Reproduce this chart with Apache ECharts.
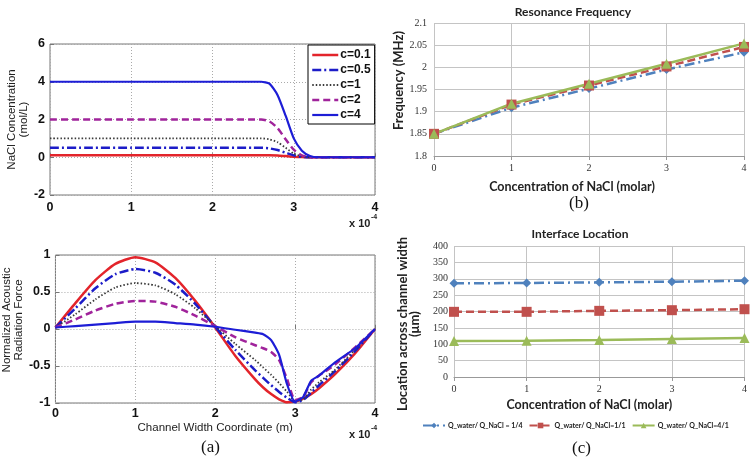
<!DOCTYPE html>
<html><head><meta charset="utf-8">
<script src="https://cdn.jsdelivr.net/npm/echarts/dist/echarts.min.js"></script>
<style>html,body{margin:0;padding:0;background:#fff}#c{width:750px;height:457px}</style>
</head><body><div id="c"></div>
<script>
// ---- (a) top: NaCl concentration profile (x in units of 1e-4 m)
const concX   = [0, 0.5, 1, 1.5, 2, 2.5, 2.6, 2.7, 2.8, 2.9, 3.0, 3.1, 3.2, 3.3, 3.5, 4];
const conc01  = [0.1,0.1,0.1,0.1,0.1,0.1,0.1,0.1,0.09,0.06,0.03,0.01,0,0,0,0];
const conc05  = [0.5,0.5,0.5,0.5,0.5,0.5,0.5,0.47,0.38,0.24,0.1,0.02,0,0,0,0];
const conc1   = [1,1,1,1,1,1,1,0.95,0.8,0.5,0.2,0.05,0,0,0,0];
const conc2   = [2,2,2,2,2,2,2,1.9,1.55,0.95,0.4,0.1,0.01,0,0,0];
const conc4   = [4,4,4,4,4,4,4,3.9,3.3,2.2,1.0,0.35,0.07,0,0,0];
const concNames = ['c=0.1','c=0.5','c=1','c=2','c=4'];
// ---- (a) bottom: normalized acoustic radiation force
const forceX  = [0,0.25,0.5,0.75,1,1.25,1.5,1.75,2,2.25,2.5,2.6,2.7,2.8,2.9,3.0,3.1,3.2,3.3,3.5,3.75,4];
const force01 = [0.02,0.35,0.66,0.88,0.97,0.9,0.69,0.38,0.02,-0.36,-0.68,-0.79,-0.88,-0.95,-0.99,-0.98,-0.94,-0.88,-0.8,-0.61,-0.33,0];
const force05 = [0.02,0.28,0.55,0.74,0.81,0.76,0.6,0.34,0.03,-0.28,-0.56,-0.66,-0.76,-0.85,-0.93,-0.99,-0.96,-0.86,-0.76,-0.57,-0.3,0];
const force1  = [0.02,0.2,0.4,0.56,0.62,0.59,0.47,0.28,0.04,-0.2,-0.42,-0.52,-0.62,-0.73,-0.85,-0.97,-0.95,-0.82,-0.72,-0.55,-0.28,0];
const force2  = [0.02,0.13,0.25,0.34,0.38,0.37,0.3,0.18,0.04,-0.11,-0.22,-0.26,-0.31,-0.42,-0.68,-0.96,-0.92,-0.72,-0.63,-0.48,-0.25,0];
const force4  = [0.02,0.04,0.06,0.08,0.1,0.1,0.08,0.06,0.03,-0.01,-0.05,-0.07,-0.15,-0.35,-0.75,-0.98,-0.92,-0.7,-0.63,-0.45,-0.26,0];
// ---- (b) resonance frequency
const molar = [0, 1, 2, 3, 4];
const freqA = [1.85, 1.909, 1.952, 1.995, 2.034];
const freqB = [1.85, 1.916, 1.959, 2.002, 2.046];
const freqC = [1.85, 1.918, 1.963, 2.008, 2.054];
// ---- (c) interface location
const locA = [286, 287, 289, 291, 294];
const locB = [199, 199, 202, 204, 207];
const locC = [110, 111, 113, 116, 119];
const ratioNames = ['Q_water/ Q_NaCl = 1/4', 'Q_water/ Q_NaCl=1/1', 'Q_water/ Q_NaCl=4/1'];

const zip = (xs, ys) => xs.map((x, i) => [x, ys[i]]);

const matColors = ['#e3242b', '#1c1cc8', '#3a3a3a', '#a0239b', '#1d1dd6'];
const matStyles = [
  {type:'solid', width:2.5},
  {type:[9,3,2,3], width:2.5},
  {type:[1.5,2], width:1.8},
  {type:[7,4], width:2.5},
  {type:'solid', width:2.2}
];
const concData = [conc01, conc05, conc1, conc2, conc4];
const forceData = [force01, force05, force1, force2, force4];

const series = [];
concData.forEach((d, i) => series.push({
  type:'line', name: concNames[i], xAxisIndex:0, yAxisIndex:0,
  data: zip(concX, d), symbol:'none', showSymbol:false, smooth:0.2,
  color: matColors[i], lineStyle: Object.assign({color: matColors[i]}, matStyles[i])
}));
forceData.forEach((d, i) => series.push({
  type:'line', name: concNames[i], xAxisIndex:1, yAxisIndex:1,
  data: zip(forceX, d), symbol:'none', showSymbol:false, smooth:0.2,
  color: matColors[i], lineStyle: Object.assign({color: matColors[i]}, matStyles[i])
}));

const xlColors = ['#4f81bd', '#c0504d', '#9bbb59'];
const xlSymbols = ['diamond', 'rect', 'triangle'];
const xlSizes = [9, 10, 10];
const xlLine = [[10,4,2,4], [8,4], 'solid'];
[freqA, freqB, freqC].forEach((d, i) => series.push({
  type:'line', name: ratioNames[i], xAxisIndex:2, yAxisIndex:2,
  data: zip(molar, d), symbol: xlSymbols[i], symbolSize: xlSizes[i],
  color: xlColors[i], itemStyle:{color: xlColors[i]},
  lineStyle:{color: xlColors[i], width:2.5, type: xlLine[i]}
}));
[locA, locB, locC].forEach((d, i) => series.push({
  type:'line', name: ratioNames[i], xAxisIndex:3, yAxisIndex:3,
  data: zip(molar, d), symbol: xlSymbols[i], symbolSize: xlSizes[i],
  color: xlColors[i], itemStyle:{color: xlColors[i]},
  lineStyle:{color: xlColors[i], width:2.5, type: xlLine[i]}
}));

const matLabel = {color:'#111', fontFamily:'Liberation Sans', fontWeight:'bold', fontSize:12.5};
const matSplit = {show:true, lineStyle:{color:'#aaa', type:[1,2], width:1}};
const xlLabel = {color:'#333', fontFamily:'Liberation Serif', fontSize:10};
const xlSplit = {show:true, lineStyle:{color:'#c4c4c4', width:1}};
const xlName = {color:'#222', fontFamily:'Lato', fontWeight:'bold', fontSize:12.5};

const option = {
  animation:false,
  backgroundColor:'#fff',
  grid:[
    {left:50, top:44, width:325, height:151, show:true, borderColor:'#777', borderWidth:1, backgroundColor:'transparent'},
    {left:50, top:255, width:325, height:148, show:true, borderColor:'#777', borderWidth:1, backgroundColor:'transparent'},
    {left:434, top:23, width:310, height:133},
    {left:454, top:246, width:292, height:131}
  ],
  xAxis:[
    {type:'value', gridIndex:0, min:0, max:4, interval:1, axisLine:{show:false},
     axisTick:{inside:true, length:4, lineStyle:{color:'#777'}}, axisLabel:Object.assign({margin:6}, matLabel), splitLine:matSplit},
    {type:'value', gridIndex:1, min:0, max:4, interval:1, axisLine:{show:false},
     axisTick:{inside:true, length:4, lineStyle:{color:'#777'}}, axisLabel:Object.assign({margin:4}, matLabel), splitLine:matSplit,
     name:'Channel Width Coordinate (m)', nameLocation:'middle', nameGap:19,
     nameTextStyle:{color:'#222', fontFamily:'Liberation Sans', fontSize:11.5}},
    {type:'value', gridIndex:2, min:0, max:4, interval:1, axisLine:{show:true, lineStyle:{color:'#999'}},
     axisTick:{show:true, length:4, lineStyle:{color:'#999'}}, axisLabel:Object.assign({margin:7}, xlLabel), splitLine:xlSplit,
     name:'Concentration of NaCl (molar)', nameLocation:'middle', nameGap:24,
     nameTextStyle:Object.assign({padding:[0,34,0,0]}, xlName)},
    {type:'value', gridIndex:3, min:0, max:4, interval:1, axisLine:{show:true, lineStyle:{color:'#999'}},
     axisTick:{show:true, length:4, lineStyle:{color:'#999'}}, axisLabel:Object.assign({margin:7}, xlLabel), splitLine:xlSplit,
     name:'Concentration of NaCl (molar)', nameLocation:'middle', nameGap:21,
     nameTextStyle:Object.assign({padding:[0,20,0,0]}, xlName)}
  ],
  yAxis:[
    {type:'value', gridIndex:0, min:-2, max:6, interval:2, axisLine:{show:false},
     axisTick:{inside:true, length:4, lineStyle:{color:'#777'}}, axisLabel:Object.assign({margin:5}, matLabel), splitLine:matSplit,
     name:'NaCl Concentration\n(mol/L)', nameLocation:'middle', nameGap:16,
     nameTextStyle:{color:'#222', fontFamily:'Liberation Sans', fontSize:11.5, lineHeight:12}},
    {type:'value', gridIndex:1, min:-1, max:1, interval:0.5, axisLine:{show:false},
     axisTick:{inside:true, length:4, lineStyle:{color:'#777'}}, axisLabel:Object.assign({margin:5}, matLabel), splitLine:matSplit,
     name:'Normalized Acoustic\nRadiation Force', nameLocation:'middle', nameGap:24,
     nameTextStyle:{color:'#222', fontFamily:'Liberation Sans', fontSize:11.5, lineHeight:12, padding:[0,0,0,18]}},
    {type:'value', gridIndex:2, min:1.8, max:2.1, interval:0.05, axisLine:{show:false}, axisTick:{show:false},
     axisLabel:Object.assign({margin:7}, xlLabel), splitLine:xlSplit,
     name:'Frequency (MHz)', nameLocation:'middle', nameGap:28,
     nameTextStyle:Object.assign({padding:[0,0,0,18]}, xlName, {fontSize:13})},
    {type:'value', gridIndex:3, min:0, max:400, interval:50, axisLine:{show:false}, axisTick:{show:false},
     axisLabel:Object.assign({margin:6}, xlLabel), splitLine:xlSplit,
     name:'Location across channel width\n(μm)', nameLocation:'middle', nameGap:33,
     nameTextStyle:Object.assign({padding:[0,25,0,0], lineHeight:12}, xlName, {fontSize:13})}
  ],
  title:[
    {text:'Resonance Frequency', left:568, top:1, textAlign:'center',
     textStyle:{color:'#222', fontFamily:'Lato', fontWeight:'bold', fontSize:12}},
    {text:'Interface Location', left:575, top:223, textAlign:'center',
     textStyle:{color:'#222', fontFamily:'Lato', fontWeight:'bold', fontSize:12}}
  ],
  legend:[
    {data:concNames, left:308, top:45, orient:'vertical', itemGap:3, itemWidth:26, itemHeight:12,
     backgroundColor:'#fff', borderColor:'#000', borderWidth:1, padding:[4,4,3,3],
     itemStyle:{opacity:0}, lineStyle:{type:'inherit', width:'inherit'},
     textStyle:{color:'#111', fontFamily:'Liberation Sans', fontWeight:'bold', fontSize:12, padding:[0,0,0,-3]}},
    {data:ratioNames, left:422, top:422, orient:'horizontal', itemGap:6, itemWidth:22, itemHeight:7, width:328, padding:0,
     textStyle:{color:'#222', fontFamily:'Lato', fontWeight:'bold', fontSize:7, padding:[0,0,0,-2]}}
  ],
  graphic:[
    {type:'text', left:349, top:218, style:{text:'x 10', fill:'#222', font:'bold 11px "Liberation Sans"'}},
    {type:'text', left:371, top:214, style:{text:'-4', fill:'#222', font:'bold 7px "Liberation Sans"'}},
    {type:'text', left:349, top:429, style:{text:'x 10', fill:'#222', font:'bold 11px "Liberation Sans"'}},
    {type:'text', left:371, top:425, style:{text:'-4', fill:'#222', font:'bold 7px "Liberation Sans"'}},
    {type:'text', left:201, top:439, style:{text:'(a)', fill:'#111', font:'17px "Liberation Serif"'}},
    {type:'text', left:569, top:195, style:{text:'(b)', fill:'#111', font:'17px "Liberation Serif"'}},
    {type:'text', left:572, top:440, style:{text:'(c)', fill:'#111', font:'17px "Liberation Serif"'}}
  ],
  series: series
};
const chart = echarts.init(document.getElementById('c'), null, {renderer:'canvas'});
chart.setOption(option);
</script></body></html>
